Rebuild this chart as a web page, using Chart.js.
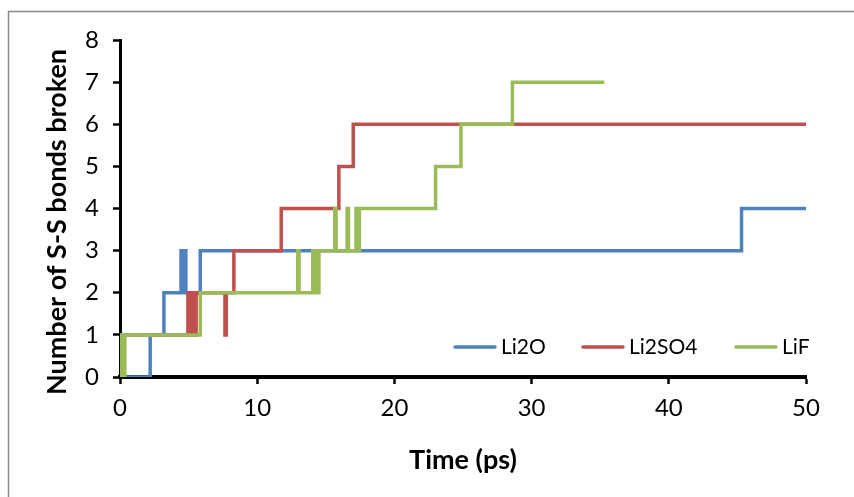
<!DOCTYPE html>
<html>
<head>
<meta charset="utf-8">
<script src="https://cdn.jsdelivr.net/npm/chart.js@4/dist/chart.umd.min.js"></script>
<style>
html,body{margin:0;padding:0;background:#fff;}
#wrap{position:absolute;left:0;top:0;width:854px;height:497px;}
</style>
</head>
<body>
<div id="wrap"><canvas id="c" width="854" height="497"></canvas></div>
<script>
// ---- data (step change points: time in ps, new count) ----
const seriesNames = ["Li2O", "Li2SO4", "LiF"];
const li2oTimes  = [0, 2.2, 3.2, 4.45, 4.55, 4.65, 4.8, 5.85, 45.3, 50];
const li2oCounts = [0, 1,   2,   3,    2,    3,    2,   3,    4,    4];
const li2so4Times  = [0, 0.05, 4.95, 5.1, 5.25, 5.4, 5.55, 7.65, 7.75, 8.3, 11.75, 15.95, 17.0, 50];
const li2so4Counts = [0, 1,    2,    1,   2,    1,   2,    1,    2,    3,   4,     5,     6,    6];
const lifTimes  = [0, 0.1, 0.2, 0.35, 5.85, 12.95, 13.05, 14.05, 14.15, 14.35, 14.4, 14.5, 15.65, 15.75, 16.55, 16.65, 17.2, 17.3, 17.45, 23.0, 24.85, 28.6, 35.3];
const lifCounts = [0, 1,   0,   1,    2,    3,     2,     3,     2,     3,     2,    3,    4,     3,     4,     3,     4,    3,    4,     5,    6,     7,    7];
const xTicks = [0, 10, 20, 30, 40, 50];
const yTicks = [0, 1, 2, 3, 4, 5, 6, 7, 8];
const xTitle = 'Time (ps)';
const yTitle = 'Number of S-S bonds broken';
const colors = ["#4F81BD", "#C0504D", "#9BBB59"];

function pts(t, v){ return t.map((x,i)=>({x:x, y:v[i]})); }

const FONT = "'Lato', sans-serif";

const framePlugin = {
  id: 'frame',
  beforeDraw(chart){
    const ctx = chart.ctx;
    ctx.save();
    ctx.fillStyle = '#fff';
    ctx.fillRect(0,0,chart.width,chart.height);
    ctx.strokeStyle = '#8a8a8a';
    ctx.lineWidth = 1.5;
    ctx.beginPath();
    ctx.moveTo(8.5, 600); ctx.lineTo(8.5, 11.5); ctx.lineTo(900, 11.5);
    ctx.stroke();
    ctx.restore();
  }
};

const legendPlugin = {
  id: 'insideLegend',
  afterDraw(chart){
    const ctx = chart.ctx;
    const starts = [455, 583, 736];
    const y = chart.scales.y.getPixelForValue(0) - 30;
    ctx.save();
    ctx.font = "21px " + FONT;
    ctx.textBaseline = 'middle';
    chart.data.datasets.forEach((ds, i) => {
      const x0 = starts[i];
      ctx.strokeStyle = ds.borderColor;
      ctx.lineWidth = 3.5;
      ctx.lineCap = 'round';
      ctx.beginPath(); ctx.moveTo(x0, y); ctx.lineTo(x0+40, y); ctx.stroke();
      ctx.fillStyle = '#000';
      ctx.fillText(ds.label, x0+46, y);
    });
    // rotated y-axis title
    ctx.translate(57, 222);
    ctx.rotate(-Math.PI/2);
    ctx.font = "bold 27px " + FONT;
    ctx.textAlign = 'center';
    ctx.textBaseline = 'middle';
    ctx.fillStyle = '#000';
    ctx.fillText(yTitle, 0, 0);
    ctx.restore();
  }
};

new Chart(document.getElementById('c'), {
  type: 'line',
  data: {
    datasets: [
      {label: seriesNames[0], data: pts(li2oTimes, li2oCounts), borderColor: colors[0], backgroundColor: colors[0], order: 2},
      {label: seriesNames[1], data: pts(li2so4Times, li2so4Counts), borderColor: colors[1], backgroundColor: colors[1], order: 1},
      {label: seriesNames[2], data: pts(lifTimes, lifCounts), borderColor: colors[2], backgroundColor: colors[2], order: 0}
    ]
  },
  options: {
    responsive: false,
    animation: false,
    devicePixelRatio: 1,
    elements: {
      line: {borderWidth: 3.5, stepped: 'before', tension: 0, borderJoinStyle: 'miter'},
      point: {radius: 0, hoverRadius: 0}
    },
    layout: {padding: {left: 41, right: 48, top: 40, bottom: 21}},
    plugins: {legend: {display: false}, tooltip: {enabled: false}},
    scales: {
      x: {
        type: 'linear', min: 0, max: 50, z: 1,
        afterBuildTicks(s){ s.ticks = xTicks.map(v=>({value:v})); },
        afterFit(s){ s.height = 99; },
        grid: {display: true, drawOnChartArea: false, drawTicks: true, tickLength: 7, tickColor: '#000', tickWidth: 2.5},
        border: {display: true, color: '#000', width: 4},
        ticks: {color: '#000', font: {family: FONT, size: 24}, padding: 10, maxRotation: 0},
        title: {display: true, text: xTitle, color: '#000', font: {family: FONT, size: 27, weight: 'bold'}, padding: 0}
      },
      y: {
        type: 'linear', min: 0, max: 8, z: 1,
        afterBuildTicks(s){ s.ticks = yTicks.map(v=>({value:v})); },
        afterFit(s){ s.width = 79; },
        grid: {display: true, drawOnChartArea: false, drawTicks: true, tickLength: 7, tickColor: '#000', tickWidth: 2.5},
        border: {display: true, color: '#000', width: 3},
        ticks: {color: '#000', font: {family: FONT, size: 24}, padding: 14},
        title: {display: false}
      }
    }
  },
  plugins: [framePlugin, legendPlugin]
});
</script>
</body>
</html>
